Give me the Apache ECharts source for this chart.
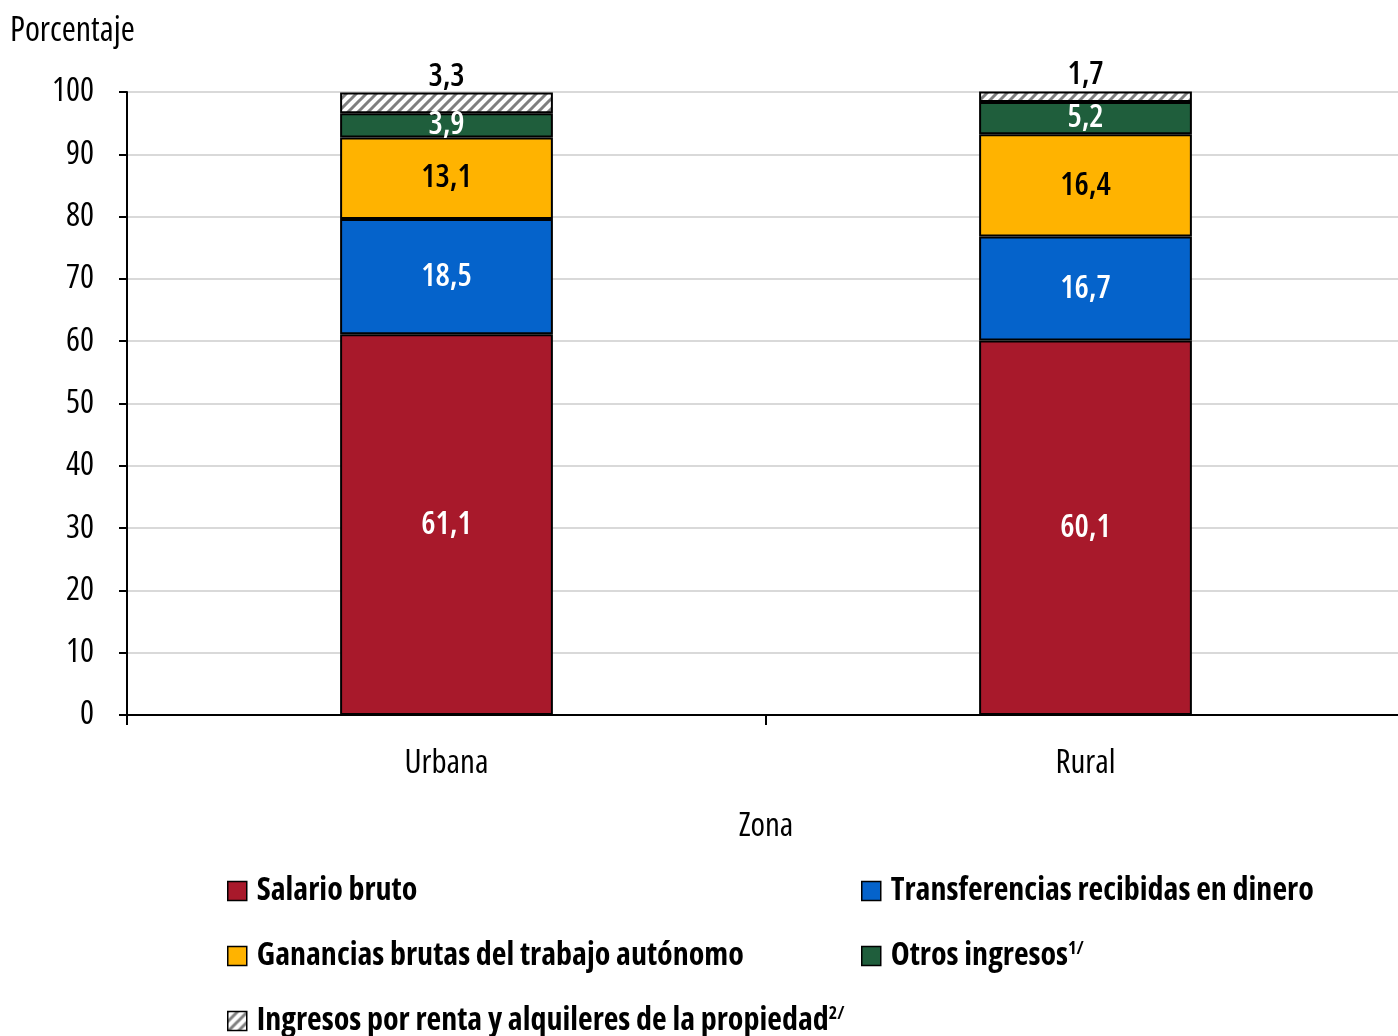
<!DOCTYPE html>
<html>
<head>
<meta charset="utf-8">
<script src="https://cdn.jsdelivr.net/npm/echarts@6/dist/echarts.min.js"></script>
<style>
  html, body { margin: 0; padding: 0; background: #fff; }
  #chart { width: 1398px; height: 1036px; }
</style>
</head>
<body>
<div id="chart"></div>
<script>
// datos
const zonas = ['Urbana', 'Rural']
const salario = [61.1, 60.1]
const transferencias = [18.5, 16.7]
const ganancias = [13.1, 16.4]
const otros = [3.9, 5.2]
const renta = [3.3, 1.7]
const yTicks = [0, 10, 20, 30, 40, 50, 60, 70, 80, 90, 100]

// Open Sans estrecha (font-stretch va junto al peso en el shorthand)
const FONT = '"Open Sans", "Roboto Condensed", sans-serif'
const REG = 'normal condensed'
const MED = '600 condensed'
const BOLD = 'bold condensed'

// rayado para "renta"
function hatch() {
  let c = document.createElement('canvas')
  c.width = 10
  c.height = 10
  let ctx = c.getContext('2d')
  ctx.fillStyle = '#fff'
  ctx.fillRect(0, 0, 10, 10)
  ctx.strokeStyle = '#7f7f7f'
  ctx.lineWidth = 3
  ctx.beginPath()
  ctx.moveTo(-2, 12); ctx.lineTo(12, -2)
  ctx.moveTo(-7, 7); ctx.lineTo(7, -7)
  ctx.moveTo(3, 17); ctx.lineTo(17, 3)
  ctx.stroke()
  return {image: c, repeat: 'repeat'}
}
const hatchFill = hatch()

const coma = p => String(p.value).replace('.', ',')

function serie(name, data, color, labelColor, pos) {
  return {
    name: name,
    type: 'bar',
    stack: 'total',
    barWidth: '33.3%',
    data: data,
    itemStyle: {color: color, borderColor: '#000', borderWidth: 2},
    label: {
      show: true,
      position: pos || 'inside',
      formatter: coma,
      color: labelColor,
      fontFamily: FONT,
      fontSize: 32,
      fontWeight: MED,
      distance: 0
    }
  }
}

const legendRich = {
  a: {fontFamily: FONT, fontSize: 32, fontWeight: BOLD, color: '#000'},
  s: {fontFamily: FONT, fontSize: 18, fontWeight: BOLD, color: '#000', verticalAlign: 'top', padding: [0, 0, 14, 0]}
}
function leyenda(name, left, top, sup) {
  return {
    data: [name],
    left: left,
    top: top,
    padding: 0,
    icon: 'rect',
    itemWidth: 19,
    itemHeight: 19,
    itemGap: 0,
    itemStyle: {borderColor: '#000', borderWidth: 1.5},
    formatter: n => sup ? '{a|' + n + '}{s|' + sup + '}' : '{a|' + n + '}',
    textStyle: {rich: legendRich, padding: [0, 0, 0, 5]},
    selectedMode: false
  }
}

let myChart = echarts.init(document.getElementById('chart'))
myChart.setOption({
  animation: false,
  textStyle: {fontFamily: FONT},
  grid: {left: 127, width: 1278, top: 92, bottom: 321, outerBoundsMode: 'none'},
  legend: [
    leyenda('Salario bruto', 227, 875),
    leyenda('Transferencias recibidas en dinero', 861, 875),
    leyenda('Ganancias brutas del trabajo autónomo', 227, 940),
    leyenda('Otros ingresos', 861, 940, '1/'),
    leyenda('Ingresos por renta y alquileres de la propiedad', 227, 1005, '2/')
  ],
  graphic: [
    {type: 'text', left: 10, top: 14, style: {text: 'Porcentaje', font: REG + ' 34px ' + FONT, fill: '#000'}}
  ],
  xAxis: {
    type: 'category',
    data: zonas,
    name: 'Zona',
    nameLocation: 'middle',
    nameGap: 95,
    nameTextStyle: {fontFamily: FONT, fontWeight: REG, fontSize: 33, color: '#000'},
    axisLine: {lineStyle: {color: '#000', width: 2}},
    axisTick: {show: true, length: 10, lineStyle: {color: '#000', width: 2}},
    axisLabel: {fontFamily: FONT, fontWeight: REG, fontSize: 33, color: '#000', margin: 32}
  },
  yAxis: {
    type: 'value',
    min: 0,
    max: 100,
    interval: 10,
    axisLine: {show: true, lineStyle: {color: '#000', width: 2}},
    axisTick: {show: true, length: 8, lineStyle: {color: '#000', width: 2}},
    axisLabel: {fontFamily: FONT, fontWeight: REG, fontSize: 33, color: '#000', margin: 33,
      formatter: v => yTicks.includes(v) ? String(v) : ''},
    splitLine: {lineStyle: {color: '#d9d9d9', width: 2}}
  },
  series: [
    serie('Salario bruto', salario, '#A8192B', '#fff'),
    serie('Transferencias recibidas en dinero', transferencias, '#0563CB', '#fff'),
    serie('Ganancias brutas del trabajo autónomo', ganancias, '#FFB300', '#000'),
    serie('Otros ingresos', otros, '#1F5E3C', '#fff'),
    serie('Ingresos por renta y alquileres de la propiedad', renta, hatchFill, '#000', 'top')
  ]
})
</script>
</body>
</html>
